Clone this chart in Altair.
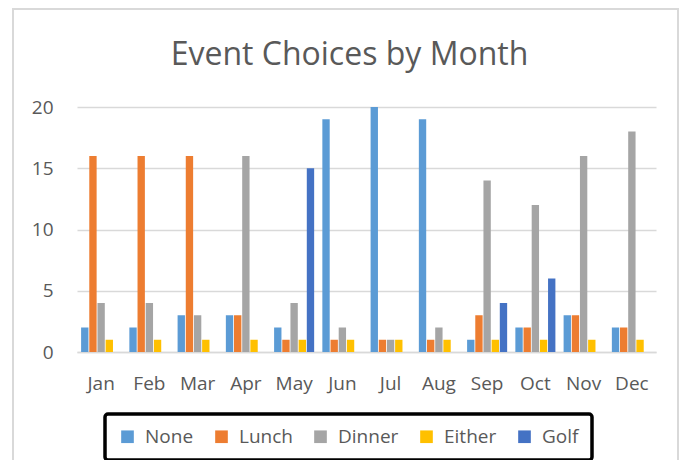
import altair as alt
import pandas as pd

months = ["Jan", "Feb", "Mar", "Apr", "May", "Jun", "Jul", "Aug", "Sep", "Oct", "Nov", "Dec"]
choices = ["None", "Lunch", "Dinner", "Either", "Golf"]
colors = ["#5B9BD5", "#ED7D31", "#A5A5A5", "#FFC000", "#4472C4"]

none_vals = [2, 2, 3, 3, 2, 19, 20, 19, 1, 2, 3, 2]
lunch_vals = [16, 16, 16, 3, 1, 1, 1, 1, 3, 2, 3, 2]
dinner_vals = [4, 4, 3, 16, 4, 2, 1, 2, 14, 12, 16, 18]
either_vals = [1, 1, 1, 1, 1, 1, 1, 1, 1, 1, 1, 1]
golf_vals = [0, 0, 0, 0, 15, 0, 0, 0, 4, 6, 0, 0]

series = {
    "None": none_vals,
    "Lunch": lunch_vals,
    "Dinner": dinner_vals,
    "Either": either_vals,
    "Golf": golf_vals,
}

rows = []
for c in choices:
    for m, v in zip(months, series[c]):
        rows.append({"month": m, "choice": c, "count": v})
df = pd.DataFrame(rows)

TEXT = "#595959"
GRID = "#d9d9d9"
FONT = "Open Sans"

bars = alt.Chart(df).mark_bar().encode(
    x=alt.X(
        "month:N",
        sort=months,
        scale=alt.Scale(paddingInner=0.17, paddingOuter=0.085),
        axis=alt.Axis(
            title=None, labelAngle=0, domainColor=GRID, domainWidth=1.5,
            ticks=False, labelPadding=22, labelFontSize=19,
            labelColor=TEXT, labelFont=FONT,
        ),
    ),
    xOffset=alt.XOffset(
        "choice:N", sort=choices,
        scale=alt.Scale(domain=choices, paddingInner=0.1, paddingOuter=0),
    ),
    y=alt.Y(
        "count:Q",
        scale=alt.Scale(domain=[0, 20], nice=False),
        axis=alt.Axis(
            title=None, values=[0, 5, 10, 15, 20], domain=False, ticks=False,
            gridColor=GRID, gridWidth=1.5, labelPadding=24, labelFontSize=19,
            labelColor=TEXT, labelFont=FONT,
        ),
    ),
    color=alt.Color(
        "choice:N",
        sort=choices,
        scale=alt.Scale(domain=choices, range=colors),
        legend=alt.Legend(
            title=None, orient="none", legendX=28, legendY=307,
            direction="horizontal", symbolType="square", symbolSize=160,
            symbolStrokeWidth=0, labelFontSize=19, labelColor=TEXT,
            labelFont=FONT, labelOffset=8, columnPadding=18, padding=13,
            strokeColor="black", cornerRadius=3,
        ),
    ),
)

border = alt.Chart(pd.DataFrame({"k": [0]})).mark_rect(
    fillOpacity=0, stroke=GRID, strokeWidth=2
).encode(
    x=alt.value(-64), x2=alt.value(601), y=alt.value(-98), y2=alt.value(420)
)

chart = alt.layer(border, bars).properties(
    width=579,
    height=245,
    autosize=alt.AutoSizeParams(type="none"),
    padding={"left": 69, "top": 99, "right": 24, "bottom": 108},
    title=alt.TitleParams(
        "Event Choices by Month", fontSize=32, font=FONT, color=TEXT,
        fontWeight="normal", offset=-64, dx=-17,
    ),
).configure_view(stroke=None).configure_legend(strokeWidth=3.5)

chart.save("out.html", embed_options={"renderer": "svg", "actions": False})
